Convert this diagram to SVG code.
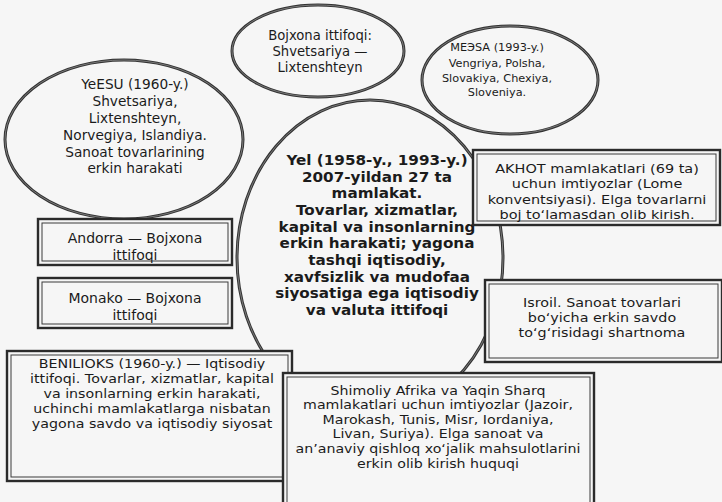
<svg xmlns="http://www.w3.org/2000/svg" width="722" height="502" viewBox="0 0 722 502">
<style>
.bg{fill:#f6f6f6}
.ell{fill:none;stroke:#333;stroke-width:3}
.ell2{fill:none;stroke:#9a9a9a;stroke-width:0.7}
.box{fill:#f6f6f6;stroke:#2b2b2b;stroke-width:2.4}
.inner{fill:none;stroke:#3a3a3a;stroke-width:1}
text{font-family:"DejaVu Sans","Liberation Sans",Arial,sans-serif;fill:#1b1b1b;text-anchor:middle}
.boj{font-size:13.2px}
.me{font-size:11.3px}
.ye{font-size:13.7px}
.yel{font-size:14px;font-weight:bold}
.ak{font-size:12.8px}
.is{font-size:12.8px}
.an{font-size:14px}
.be{font-size:12.6px}
.sh{font-size:12.4px}
</style>
<rect class="bg" x="0" y="0" width="722" height="502"/>
<g id="connectors"></g>
<g id="yel">
<ellipse class="ell" cx="370" cy="258" rx="133" ry="158"/>
<ellipse class="ell2" cx="370" cy="258" rx="133" ry="158"/>
<g transform="translate(377,0) scale(1.086,1)">
<text class="yel" x="0" y="165">Yel (1958-y., 1993-y.)</text>
<text class="yel" x="0" y="182">2007-yildan 27 ta</text>
<text class="yel" x="0" y="198">mamlakat.</text>
<text class="yel" x="0" y="215">Tovarlar, xizmatlar,</text>
<text class="yel" x="0" y="232">kapital va insonlarning</text>
<text class="yel" x="0" y="248">erkin harakati; yagona</text>
<text class="yel" x="0" y="265">tashqi iqtisodiy,</text>
<text class="yel" x="0" y="282">xavfsizlik va mudofaa</text>
<text class="yel" x="0" y="298">siyosatiga ega iqtisodiy</text>
<text class="yel" x="0" y="315">va valuta ittifoqi</text>
</g>
</g>
<g id="yeesu">
<ellipse class="ell" cx="124" cy="139.5" rx="119" ry="79.5"/>
<ellipse class="ell2" cx="124" cy="139.5" rx="119" ry="79.5"/>
<text class="ye" x="135" y="89">YeESU (1960-y.)</text>
<text class="ye" x="135" y="106">Shvetsariya,</text>
<text class="ye" x="135" y="123">Lixtenshteyn,</text>
<text class="ye" x="135" y="140">Norvegiya, Islandiya.</text>
<text class="ye" x="135" y="157">Sanoat tovarlarining</text>
<text class="ye" x="135" y="173">erkin harakati</text>
</g>
<g id="bojxona">
<ellipse class="ell" cx="318" cy="51" rx="86" ry="46"/>
<ellipse class="ell2" cx="318" cy="51" rx="86" ry="46"/>
<text class="boj" x="320" y="40">Bojxona ittifoqi:</text>
<text class="boj" x="320" y="56">Shvetsariya —</text>
<text class="boj" x="320" y="72">Lixtenshteyn</text>
</g>
<g id="meesa">
<ellipse class="ell" cx="510" cy="80" rx="88" ry="54"/>
<ellipse class="ell2" cx="510" cy="80" rx="88" ry="54"/>
<text class="me" x="497" y="51">MEЭSA (1993-y.)</text>
<text class="me" x="497" y="67">Vengriya, Polsha,</text>
<text class="me" x="497" y="82">Slovakiya, Chexiya,</text>
<text class="me" x="497" y="96">Sloveniya.</text>
</g>
<g id="akhot">
<rect class="box" x="473" y="150" width="247" height="75"/>
<rect class="inner" x="477" y="154" width="239" height="67"/>
<g transform="translate(597,0) scale(1.13,1)">
<text class="ak" x="0" y="173">AKHOT mamlakatlari (69 ta)</text>
<text class="ak" x="0" y="188">uchun imtiyozlar (Lome</text>
<text class="ak" x="0" y="204">konventsiyasi). Elga tovarlarni</text>
<text class="ak" x="0" y="219">boj to‘lamasdan olib kirish.</text>
</g>
</g>
<g id="isroil">
<rect class="box" x="485" y="280" width="237" height="82"/>
<rect class="inner" x="489" y="284" width="229" height="74"/>
<g transform="translate(602,0) scale(1.12,1)">
<text class="is" x="0" y="307">Isroil. Sanoat tovarlari</text>
<text class="is" x="0" y="322">bo‘yicha erkin savdo</text>
<text class="is" x="0" y="337">to‘g‘risidagi shartnoma</text>
</g>
</g>
<g id="andorra">
<rect class="box" x="38" y="219" width="194" height="46"/>
<rect class="inner" x="42" y="223" width="186" height="38"/>
<text class="an" x="135" y="243">Andorra — Bojxona</text>
<text class="an" x="135" y="260">ittifoqi</text>
</g>
<g id="monako">
<rect class="box" x="38" y="278" width="194" height="50"/>
<rect class="inner" x="42" y="282" width="186" height="42"/>
<text class="an" x="135" y="303">Monako — Bojxona</text>
<text class="an" x="135" y="320">ittifoqi</text>
</g>
<g id="benilioks">
<rect class="box" x="7" y="351" width="285" height="130"/>
<rect class="inner" x="11" y="355" width="277" height="122"/>
<g transform="translate(152,0) scale(1.13,1)">
<text class="be" x="0" y="368">BENILIOKS (1960-y.) — Iqtisodiy</text>
<text class="be" x="0" y="383">ittifoqi. Tovarlar, xizmatlar, kapital</text>
<text class="be" x="0" y="398">va insonlarning erkin harakati,</text>
<text class="be" x="0" y="413">uchinchi mamlakatlarga nisbatan</text>
<text class="be" x="0" y="428">yagona savdo va iqtisodiy siyosat</text>
</g>
</g>
<g id="shimoliy">
<rect class="box" x="283" y="373" width="311" height="135"/>
<rect class="inner" x="287" y="377" width="303" height="130"/>
<g transform="translate(438,0) scale(1.145,1)">
<text class="sh" x="0" y="395">Shimoliy Afrika va Yaqin Sharq</text>
<text class="sh" x="0" y="409">mamlakatlari uchun imtiyozlar (Jazoir,</text>
<text class="sh" x="0" y="424">Marokash, Tunis, Misr, Iordaniya,</text>
<text class="sh" x="0" y="438">Livan, Suriya). Elga sanoat va</text>
<text class="sh" x="0" y="453">an’anaviy qishloq xo‘jalik mahsulotlarini</text>
<text class="sh" x="0" y="468">erkin olib kirish huquqi</text>
</g>
</g>
</svg>
